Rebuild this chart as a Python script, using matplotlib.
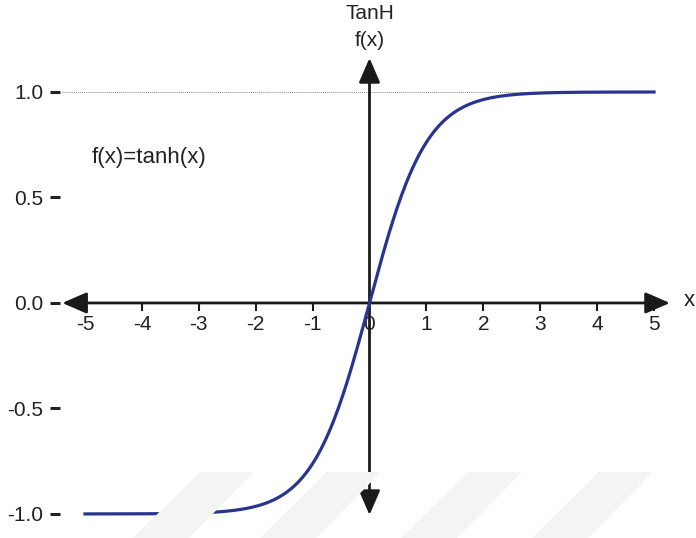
import numpy as np
import matplotlib.pyplot as plt
from matplotlib.patches import Polygon

plt.rcParams['font.family'] = ['Liberation Sans', 'DejaVu Sans']

# curve samples
x_min, x_max = -5, 5
x = np.linspace(x_min, x_max, 400)
y = np.tanh(x)

x_ticks = [-5, -4, -3, -2, -1, 0, 1, 2, 3, 4, 5]
y_ticks = [-1.0, -0.5, 0.0, 0.5, 1.0]
y_tick_labels = ['-1.0', '-0.5', '0.0', '0.5', '1.0']

W, H = 696, 538
fig = plt.figure(figsize=(W / 100, H / 100), dpi=100)
ax = fig.add_axes([60 / W, 0, 636 / W, 1])

# faint diagonal band pattern along the bottom edge
for left in [200, 327, 468, 599]:
    pts = [(left, 472), (left + 54, 472), (left - 11, 538), (left - 67, 538)]
    pts = [(px / W, 1 - py / H) for px, py in pts]
    fig.patches.append(Polygon(pts, closed=True, transform=fig.transFigure,
                               facecolor='#f4f4f4', edgecolor='none', zorder=0))

ax.set_xlim(-5.439, 5.738)
ax.set_ylim(-1.114, 1.436)
ax.patch.set_alpha(0)
for s in ax.spines.values():
    s.set_visible(False)

ax.set_xticks([])
ax.set_yticks(y_ticks)
ax.set_yticklabels(y_tick_labels, fontsize=15, color='#222222')
ax.tick_params(axis='y', length=7, width=2.2, pad=5, colors='#222222')

# dotted asymptote at y = 1
ax.plot([-5.40, 5.0], [1, 1], color='#888888', lw=0.7, ls=(0, (1, 1)))

# axes with arrows at both ends
arrow = dict(arrowstyle='<|-|>,head_length=1.5,head_width=0.65',
             color='#1a1a1a', lw=2, shrinkA=0, shrinkB=0)
ax.annotate('', xy=(5.28, 0), xytext=(-5.40, 0), arrowprops=arrow)
ax.annotate('', xy=(0, 1.161), xytext=(0, -1.005), arrowprops=arrow)

# x ticks and labels
ax.vlines(x_ticks, -0.04, 0, color='#1a1a1a', lw=1.5)
for t in x_ticks:
    ax.text(t, -0.055, str(t), ha='center', va='top', fontsize=15,
            color='#222222')

ax.plot(x, y, color='#28348f', lw=2.3, zorder=5)

ax.text(5.52, 0.01, 'x', ha='left', va='center', fontsize=16, color='#222222')
ax.text(0, 1.245, 'f(x)', ha='center', va='center', fontsize=15,
        color='#222222')
ax.text(0, 1.37, 'TanH', ha='center', va='center', fontsize=15,
        color='#222222')
ax.text(-4.88, 0.69, 'f(x)=tanh(x)', ha='left', va='center', fontsize=16,
        color='#222222')

fig.savefig('out.png', dpi=100)
